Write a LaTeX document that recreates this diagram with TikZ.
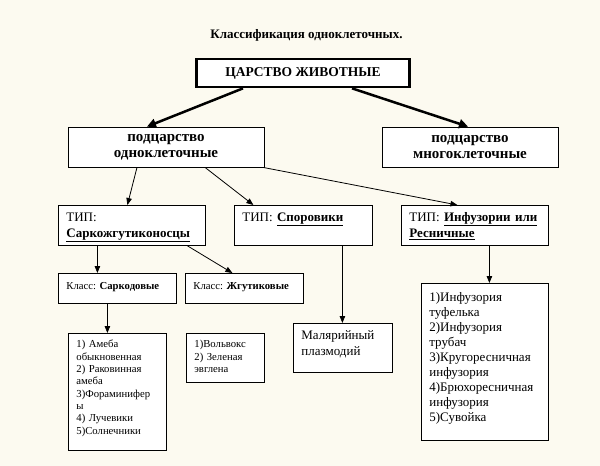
\documentclass[tikz,border=0pt]{standalone}
\usepackage{fontspec}
\setmainfont{Liberation Serif}
\usetikzlibrary{arrows.meta}
\definecolor{paper}{RGB}{252,250,240}
\frenchspacing
% Text oben links im Kasten
\newcommand{\cell}[3][16pt]{\parbox[t][#2][t]{\linewidth}{\raggedright\hyphenpenalty=10000\rule{0pt}{#1}#3}}

\begin{document}
\begin{tikzpicture}[x=1pt,y=-1pt,
	kingnode/.style={rectangle,draw,line width=2.7pt,fill=white, minimum width=213pt, minimum height=28pt, font=\fontsize{13.5}{16}\selectfont\bfseries},
	subnode/.style={rectangle,draw,line width=0.8pt,fill=white, minimum height=40pt, align=center, font=\fontsize{15}{16}\selectfont\bfseries},
	cellbox/.style={rectangle,draw,line width=0.8pt,fill=white, anchor=north west, inner xsep=8pt, inner ysep=0pt},
	big/.style={font=\fontsize{13}{16}\selectfont},
	small/.style={font=\fontsize{10.7}{12.3}\selectfont},
	arr/.style={-{Triangle[length=7pt,width=5.5pt]}, line width=0.8pt},
	thickarr/.style={-{Triangle[length=9pt,width=9pt]}, line width=2.5pt}
]
\fill[paper] (0,0) rectangle (600,466);
\useasboundingbox (0,0) rectangle (600,466);

% Titel
\node[font=\fontsize{13}{16}\selectfont\bfseries] (title) at (306.5,35) {Классификация одноклеточных.};

% Reich
\node[kingnode] (king) at (303,73) {ЦАРСТВО ЖИВОТНЫЕ};
\node[subnode, minimum width=196pt] (sub1) at (166,147) {подцарство\\одноклеточные};
\node[subnode, minimum width=176pt] (sub2) at (470,147) {подцарство\\многоклеточные};

% Typen
\node[cellbox, big, text width=131pt] (tip1) at (58,205) {\cell{40pt}{ТИП:\\\textbf{\underline{Саркожгутиконосцы}}}};
\node[cellbox, big, text width=122pt] (tip2) at (234,205) {\cell{40pt}{ТИП: \textbf{\underline{Споровики}}}};
\node[cellbox, big, text width=131pt] (tip3) at (401,205) {\cell{40pt}{ТИП: \textbf{\underline{Инфузории или}}\\\textbf{\underline{Ресничные}}}};

% Klassen
\node[cellbox, small, text width=102pt] (cls1) at (58,273) {\cell{30pt}{Класс: \textbf{Саркодовые}}};
\node[cellbox, small, text width=102pt] (cls2) at (185,273) {\cell{30pt}{Класс: \textbf{Жгутиковые}}};

% Vertreter
\node[cellbox, small, text width=82pt] (lst1) at (68,333) {\cell[14.5pt]{117pt}{1) Амеба\\обыкновенная\\2) Раковинная\\амеба\\3)Фораминифер\\ы\\4) Лучевики\\5)Солнечники}};
\node[cellbox, small, text width=62pt] (lst2) at (186,333) {\cell[14.5pt]{49pt}{1)Вольвокс\\2) Зеленая\\эвглена}};
\node[cellbox, big, text width=83pt] (mal) at (293,323) {\cell{49pt}{Малярийный\\плазмодий}};
\node[cellbox, font=\fontsize{13}{15}\selectfont, text width=111pt] (lst3) at (421,283) {\cell[18pt]{157pt}{1)Инфузория\\туфелька\\2)Инфузория\\трубач\\3)Кругоресничная\\инфузория\\4)Брюхоресничная\\инфузория\\5)Сувойка}};

\draw[thickarr] ([xshift=-60pt]king.south) -- ([xshift=-19pt]sub1.north);
\draw[thickarr] ([xshift=49pt]king.south) -- ([xshift=-2pt]sub2.north);
\draw[arr] ([xshift=-29pt]sub1.south) -- ([xshift=-4.5pt]tip1.north);
\draw[arr] ([xshift=39pt]sub1.south) -- ([xshift=-50pt]tip2.north);
\draw[arr] ([xshift=97pt]sub1.south) -- ([xshift=-17.5pt]tip3.north);
\draw[arr] ([xshift=-34.5pt]tip1.south) -- ([xshift=-20pt]cls1.north);
\draw[arr] ([xshift=55.5pt]tip1.south) -- ([xshift=-12pt]cls2.north);
\draw[arr] ([xshift=-10pt]cls1.south) -- ([xshift=-10pt]lst1.north);
\draw[arr] ([xshift=39pt]tip2.south) -- ([xshift=-0.5pt]mal.north);
\draw[arr] ([xshift=14.5pt]tip3.south) -- ([xshift=4.5pt]lst3.north);

\end{tikzpicture}
\end{document}
